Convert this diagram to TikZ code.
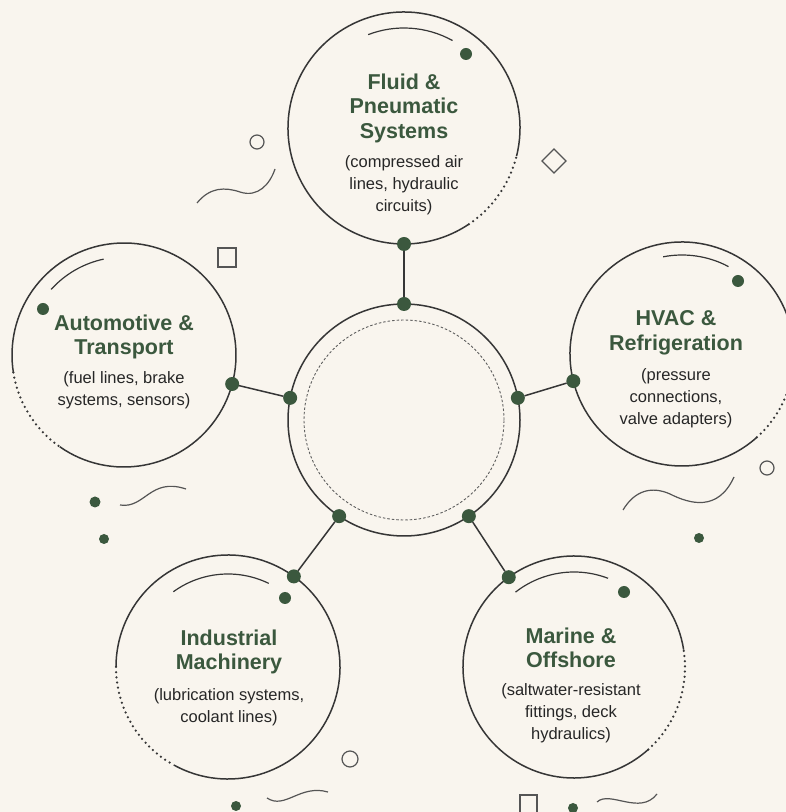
\documentclass[tikz,border=0pt]{standalone}
\usepackage{fontspec}
\setmainfont{Liberation Sans}
\definecolor{bg}{HTML}{F9F5EE}
\definecolor{ink}{HTML}{363636}
\definecolor{leaf}{HTML}{3B583E}
\definecolor{txt}{HTML}{262626}
\definecolor{deco}{HTML}{555555}
\tikzset{
  hub/.style={circle, minimum size=#1, inner sep=0pt, outer sep=0pt},
  ringline/.style={draw=ink, line width=1.5pt},
  dotline/.style={draw=ink, line width=2.5pt, line cap=round, dash pattern=on 0pt off 5.2pt},
  innerarc/.style={draw=ink, line width=1.2pt},
  jdot/.style={circle, fill=leaf, minimum size=14pt, inner sep=0pt, outer sep=0pt},
  link/.style={draw=ink, line width=1.5pt},
  ttl/.style={align=center, text=leaf, font=\fontsize{21.5}{24.5}\selectfont\bfseries},
  bdy/.style={align=center, text=txt, font=\fontsize{16.5}{22}\selectfont},
  decoline/.style={draw=deco, line width=1.2pt},
}
\begin{document}
\begin{tikzpicture}[x=1pt,y=1pt]
\fill[bg] (0,0) rectangle (786,812);
\useasboundingbox (0,0) rectangle (786,812);

% circle nodes
\node[hub=232pt] (T)  at (404,684) {};
\node[hub=232pt] (C)  at (404,392) {};
\node[hub=224pt] (L)  at (124,457) {};
\node[hub=224pt] (R)  at (682,458) {};
\node[hub=224pt] (BL) at (228,145) {};
\node[hub=222pt] (BR) at (574,145) {};

% rings
\draw[ringline] (T.center) ++(-14:116) arc[start angle=-14, end angle=304, radius=116];
\draw[dotline]  (T.center) ++(-56:116) arc[start angle=-56, end angle=-14, radius=116];
\draw[ringline] (C) circle[radius=116];
\draw[draw=ink!80, line width=0.9pt, dash pattern=on 2.5pt off 2pt] (C) circle[radius=100];
\draw[ringline] (L.center) ++(235:112) arc[start angle=235, end angle=549, radius=112];
\draw[dotline]  (L.center) ++(189:112) arc[start angle=189, end angle=235, radius=112];
\draw[ringline] (R.center) ++(-18:112) arc[start angle=-18, end angle=312, radius=112];
\draw[dotline]  (R.center) ++(-48:112) arc[start angle=-48, end angle=-18, radius=112];
\draw[ringline] (BL.center) ++(241:112) arc[start angle=241, end angle=540, radius=112];
\draw[dotline]  (BL.center) ++(180:112) arc[start angle=180, end angle=241, radius=112];
\draw[ringline] (BR.center) ++(9:111) arc[start angle=9, end angle=312, radius=111];
\draw[dotline]  (BR.center) ++(-48:111) arc[start angle=-48, end angle=9, radius=111];

% inner arcs
\draw[innerarc] (T.center) ++(111:100) arc[start angle=111, end angle=61, radius=100];
\draw[innerarc] (L.center) ++(138:98) arc[start angle=138, end angle=102, radius=98];
\draw[innerarc] (R.center) ++(101:99) arc[start angle=101, end angle=62, radius=99];
\draw[innerarc] (BL.center) ++(126:93) arc[start angle=126, end angle=64, radius=93];
\draw[innerarc] (BR.center) ++(128:95) arc[start angle=128, end angle=69, radius=95];

% small accent dots inside circles
\fill[leaf] (466,758) circle[radius=6];
\fill[leaf] (43,503) circle[radius=6];
\fill[leaf] (738,531) circle[radius=6];
\fill[leaf] (285,214) circle[radius=6];
\fill[leaf] (624,220) circle[radius=6];

% junction dots
\node[jdot] (Tj)  at (T.270) {};
\node[jdot] (Ct)  at (C.90) {};
\node[jdot] (Cl)  at (C.169) {};
\node[jdot] (Lj)  at (L.345) {};
\node[jdot] (Cr)  at (C.11) {};
\node[jdot] (Rj)  at (R.194) {};
\node[jdot] (Cbl) at (C.236) {};
\node[jdot] (BLj) at (BL.54) {};
\node[jdot] (Cbr) at (C.304) {};
\node[jdot] (BRj) at (BR.126) {};

% connectors
\draw[link] (Tj) -- (Ct);
\draw[link] (Lj) -- (Cl);
\draw[link] (Rj) -- (Cr);
\draw[link] (BLj) -- (Cbl);
\draw[link] (BRj) -- (Cbr);

% texts
\node[ttl] (Tt) at (404,704) {Fluid \&\\Pneumatic\\Systems};
\node[bdy] (Tb) at (404,627) {(compressed air\\lines, hydraulic\\circuits)};
\node[ttl] (Lt) at (124,475) {Automotive \&\\Transport};
\node[bdy] (Lb) at (124,422) {(fuel lines, brake\\systems, sensors)};
\node[ttl] (Rt) at (676,479) {HVAC \&\\Refrigeration};
\node[bdy] (Rb) at (676,414) {(pressure\\connections,\\valve adapters)};
\node[ttl] (BLt) at (229,160) {Industrial\\Machinery};
\node[bdy] (BLb) at (229,105) {(lubrication systems,\\coolant lines)};
\node[ttl] (BRt) at (571,164) {Marine \&\\Offshore};
\node[bdy] (BRb) at (571,99) {(saltwater-resistant\\fittings, deck\\hydraulics)};

% free decorations
\draw[decoline] (257,670) circle[radius=7];
\draw[decoline] (197,609) .. controls (210,625) and (225,625) .. (240,620) .. controls (258,614) and (270,628) .. (275,643);
\draw[decoline] (218,564) rectangle (236,545);
\draw[decoline] (554,663) -- (566,651) -- (554,639) -- (542,651) -- cycle;
\draw[decoline] (767,344) circle[radius=7];
\draw[decoline] (623,302) .. controls (635,322) and (652,326) .. (670,318) .. controls (690,308) and (718,300) .. (734,335);
\fill[leaf] (699,274) circle[radius=5];
\fill[leaf] (95,310) circle[radius=5.5];
\fill[leaf] (104,273) circle[radius=5];
\draw[decoline] (120,307) .. controls (145,303) and (150,335) .. (186,323);
\draw[decoline] (350,53) circle[radius=8];
\fill[leaf] (236,6) circle[radius=5];
\draw[decoline] (267,14) .. controls (285,2) and (300,28) .. (328,20);
\draw[decoline] (520,17) rectangle (537,-2);
\fill[leaf] (573,4) circle[radius=5];
\draw[decoline] (597,10) .. controls (610,22) and (640,-4) .. (657,18);
\end{tikzpicture}
\end{document}
